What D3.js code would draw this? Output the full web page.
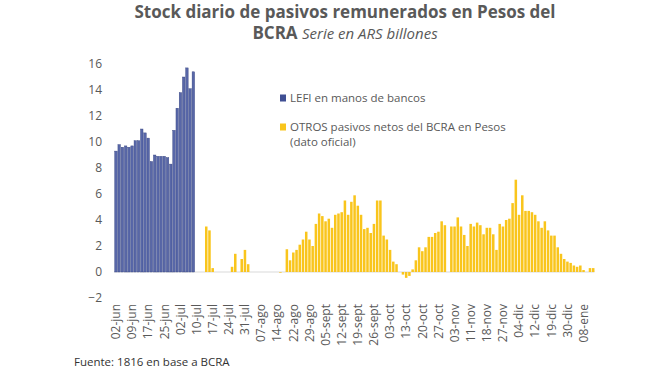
<!DOCTYPE html>
<html>
<head>
<meta charset="utf-8">
<script src="https://cdn.jsdelivr.net/npm/d3@7"></script>
<style>
  body { margin: 0; background: #fff; }
  text { font-family: "Open Sans", sans-serif; }
</style>
</head>
<body>
<div id="chart"></div>
<script>
// tick labels, one every 5 business days
const tickLabels = ["02-jun", "09-jun", "17-jun", "25-jun", "02-jul", "10-jul", "17-jul", "24-jul", "31-jul", "07-ago",
    "14-ago", "22-ago", "29-ago", "05-sept", "12-sept", "19-sept", "26-sept", "03-oct", "13-oct", "20-oct",
    "27-oct", "03-nov", "11-nov", "18-nov", "27-nov", "04-dic", "12-dic", "19-dic", "30-dic", "08-ene"];

// LEFI en manos de bancos (first 25 business days)
const lefi = [9.3, 9.8, 9.6, 9.7, 9.6, 9.7, 10.1, 10.1, 11.0, 10.7, 10.3, 8.5, 9.0, 8.9, 8.9, 8.9, 8.8, 8.3,
    10.9, 12.6, 13.8, 15.0, 15.7, 14.1, 15.4];

// OTROS pasivos netos del BCRA en Pesos (dato oficial)
const otros = [0, 0, 0, 0, 0, 0, 0, 0, 0, 0, 0, 0, 0, 0, 0, 0, 0, 0, 0, 0,
    0, 0, 0, 0, 0, 0, 0, 0, 3.5, 3.2, 0.3, 0, 0, 0, 0, 0, 0.4, 1.4, 0, 1.0,
    1.7, 0.6, 0, 0, 0, 0, 0, 0, 0, 0, 0, -0.05, 0, 1.75, 0.9, 1.5, 1.7, 2.1, 2.5, 3.1,
    2.5, 2.0, 3.7, 4.5, 4.3, 3.9, 4.1, 3.4, 4.4, 4.5, 4.6, 5.5, 4.4, 5.4, 5.9, 5.1, 4.4, 3.3, 3.4, 3.0,
    3.7, 5.5, 5.5, 2.8, 2.5, 1.7, 0.8, 0.6, 0, -0.2, -0.45, -0.3, 0.2, 0.9, 1.9, 1.6, 1.9, 2.7, 2.7, 3.0,
    3.1, 3.9, 3.6, 0, 3.5, 3.5, 4.2, 3.5, 2.85, 2.0, 3.7, 3.5, 3.8, 3.6, 2.9, 3.4, 3.4, 2.9, 1.7, 3.7,
    3.5, 4.0, 4.1, 5.3, 7.1, 4.4, 5.9, 4.7, 4.7, 4.6, 4.4, 3.9, 3.4, 3.9, 3.2, 2.8, 2.8, 1.9, 1.4, 1.0,
    0.8, 0.7, 0.5, 0.4, 0.5, 0.15, 0, 0.3, 0.3];

const categories = d3.range(otros.length); // business-day index
const yTicks = [-2, 0, 2, 4, 6, 8, 10, 12, 14, 16];

const width = 661, height = 371;
const grey = "#595959";

const svg = d3.select("#chart").append("svg")
    .attr("width", width)
    .attr("height", height);

const x = d3.scaleBand()
    .domain(categories)
    .range([114.7, 114.7 + 3.22 * categories.length])
    .paddingInner(0.22)
    .paddingOuter(0);

const y = d3.scaleLinear()
    .domain([-2, 16])
    .range([298, 64]);

// title
const title = svg.append("text")
    .attr("text-anchor", "middle")
    .attr("fill", grey)
    .style("font-size", "17px");
title.append("tspan")
    .attr("x", 345).attr("y", 18)
    .style("font-weight", "bold")
    .text("Stock diario de pasivos remunerados en Pesos del");
const t2 = title.append("tspan").attr("x", 345).attr("y", 39);
t2.append("tspan").style("font-weight", "bold").text("BCRA ");
t2.append("tspan").style("font-style", "italic").style("font-size", "15px").text("Serie en ARS billones");

// y axis (labels only)
const yAxis = svg.append("g")
    .attr("transform", "translate(102,0)")
    .call(d3.axisLeft(y).tickValues(yTicks).tickSize(0).tickPadding(0));
yAxis.select(".domain").remove();
yAxis.selectAll("text")
    .attr("fill", grey)
    .style("font-size", "12px")
    .style("font-family", "Open Sans, sans-serif");

// zero line
svg.append("line")
    .attr("x1", x.range()[0]).attr("x2", x.range()[1])
    .attr("y1", y(0)).attr("y2", y(0))
    .attr("stroke", "#d9d9d9")
    .attr("stroke-width", 1);

// bars
svg.append("g")
    .selectAll("rect")
    .data(lefi)
    .join("rect")
    .attr("x", (d, i) => x(i))
    .attr("width", x.bandwidth())
    .attr("y", d => y(Math.max(0, d)))
    .attr("height", d => Math.abs(y(d) - y(0)))
    .attr("fill", "#5867a8")
    .attr("stroke", "#34427e")
    .attr("stroke-width", 0.4);

svg.append("g")
    .selectAll("rect")
    .data(otros)
    .join("rect")
    .attr("x", (d, i) => x(i))
    .attr("width", x.bandwidth())
    .attr("y", d => y(Math.max(0, d)))
    .attr("height", d => Math.abs(y(d) - y(0)))
    .attr("fill", "#f9c51c");

// x axis labels, one every 5 categories
const xAxis = svg.append("g")
    .attr("transform", `translate(0,${y(-2) + 6})`)
    .call(d3.axisBottom(x)
        .tickValues(categories.filter(i => i % 5 === 0))
        .tickFormat(i => tickLabels[i / 5])
        .tickSize(0).tickPadding(0));
xAxis.select(".domain").remove();
xAxis.selectAll("text")
    .attr("fill", grey)
    .style("font-size", "12px")
    .style("font-family", "Open Sans, sans-serif")
    .attr("text-anchor", "end")
    .attr("dy", "0.35em")
    .attr("transform", "rotate(-90)")
    .attr("x", 0).attr("y", 0);

// legend
const legend = [
    { lines: ["LEFI en manos de bancos"], color: "#3f4f93", y: 98 },
    { lines: ["OTROS pasivos netos del BCRA en Pesos", "(dato oficial)"], color: "#f9c51c", y: 127 }
];
const lg = svg.append("g").selectAll("g").data(legend).join("g");
lg.append("rect")
    .attr("x", 280).attr("y", d => d.y - 3.5)
    .attr("width", 6).attr("height", 7)
    .attr("fill", d => d.color);
lg.append("text")
    .attr("fill", grey)
    .style("font-size", "11.5px")
    .selectAll("tspan")
    .data(d => d.lines.map((l, k) => ({ l, y: d.y + 4 + k * 15 })))
    .join("tspan")
    .attr("x", 290)
    .attr("y", d => d.y)
    .text(d => d.l);

// source
svg.append("text")
    .attr("x", 74).attr("y", 366)
    .attr("fill", "#333")
    .style("font-size", "11.5px")
    .text("Fuente: 1816 en base a BCRA");
</script>
</body>
</html>
